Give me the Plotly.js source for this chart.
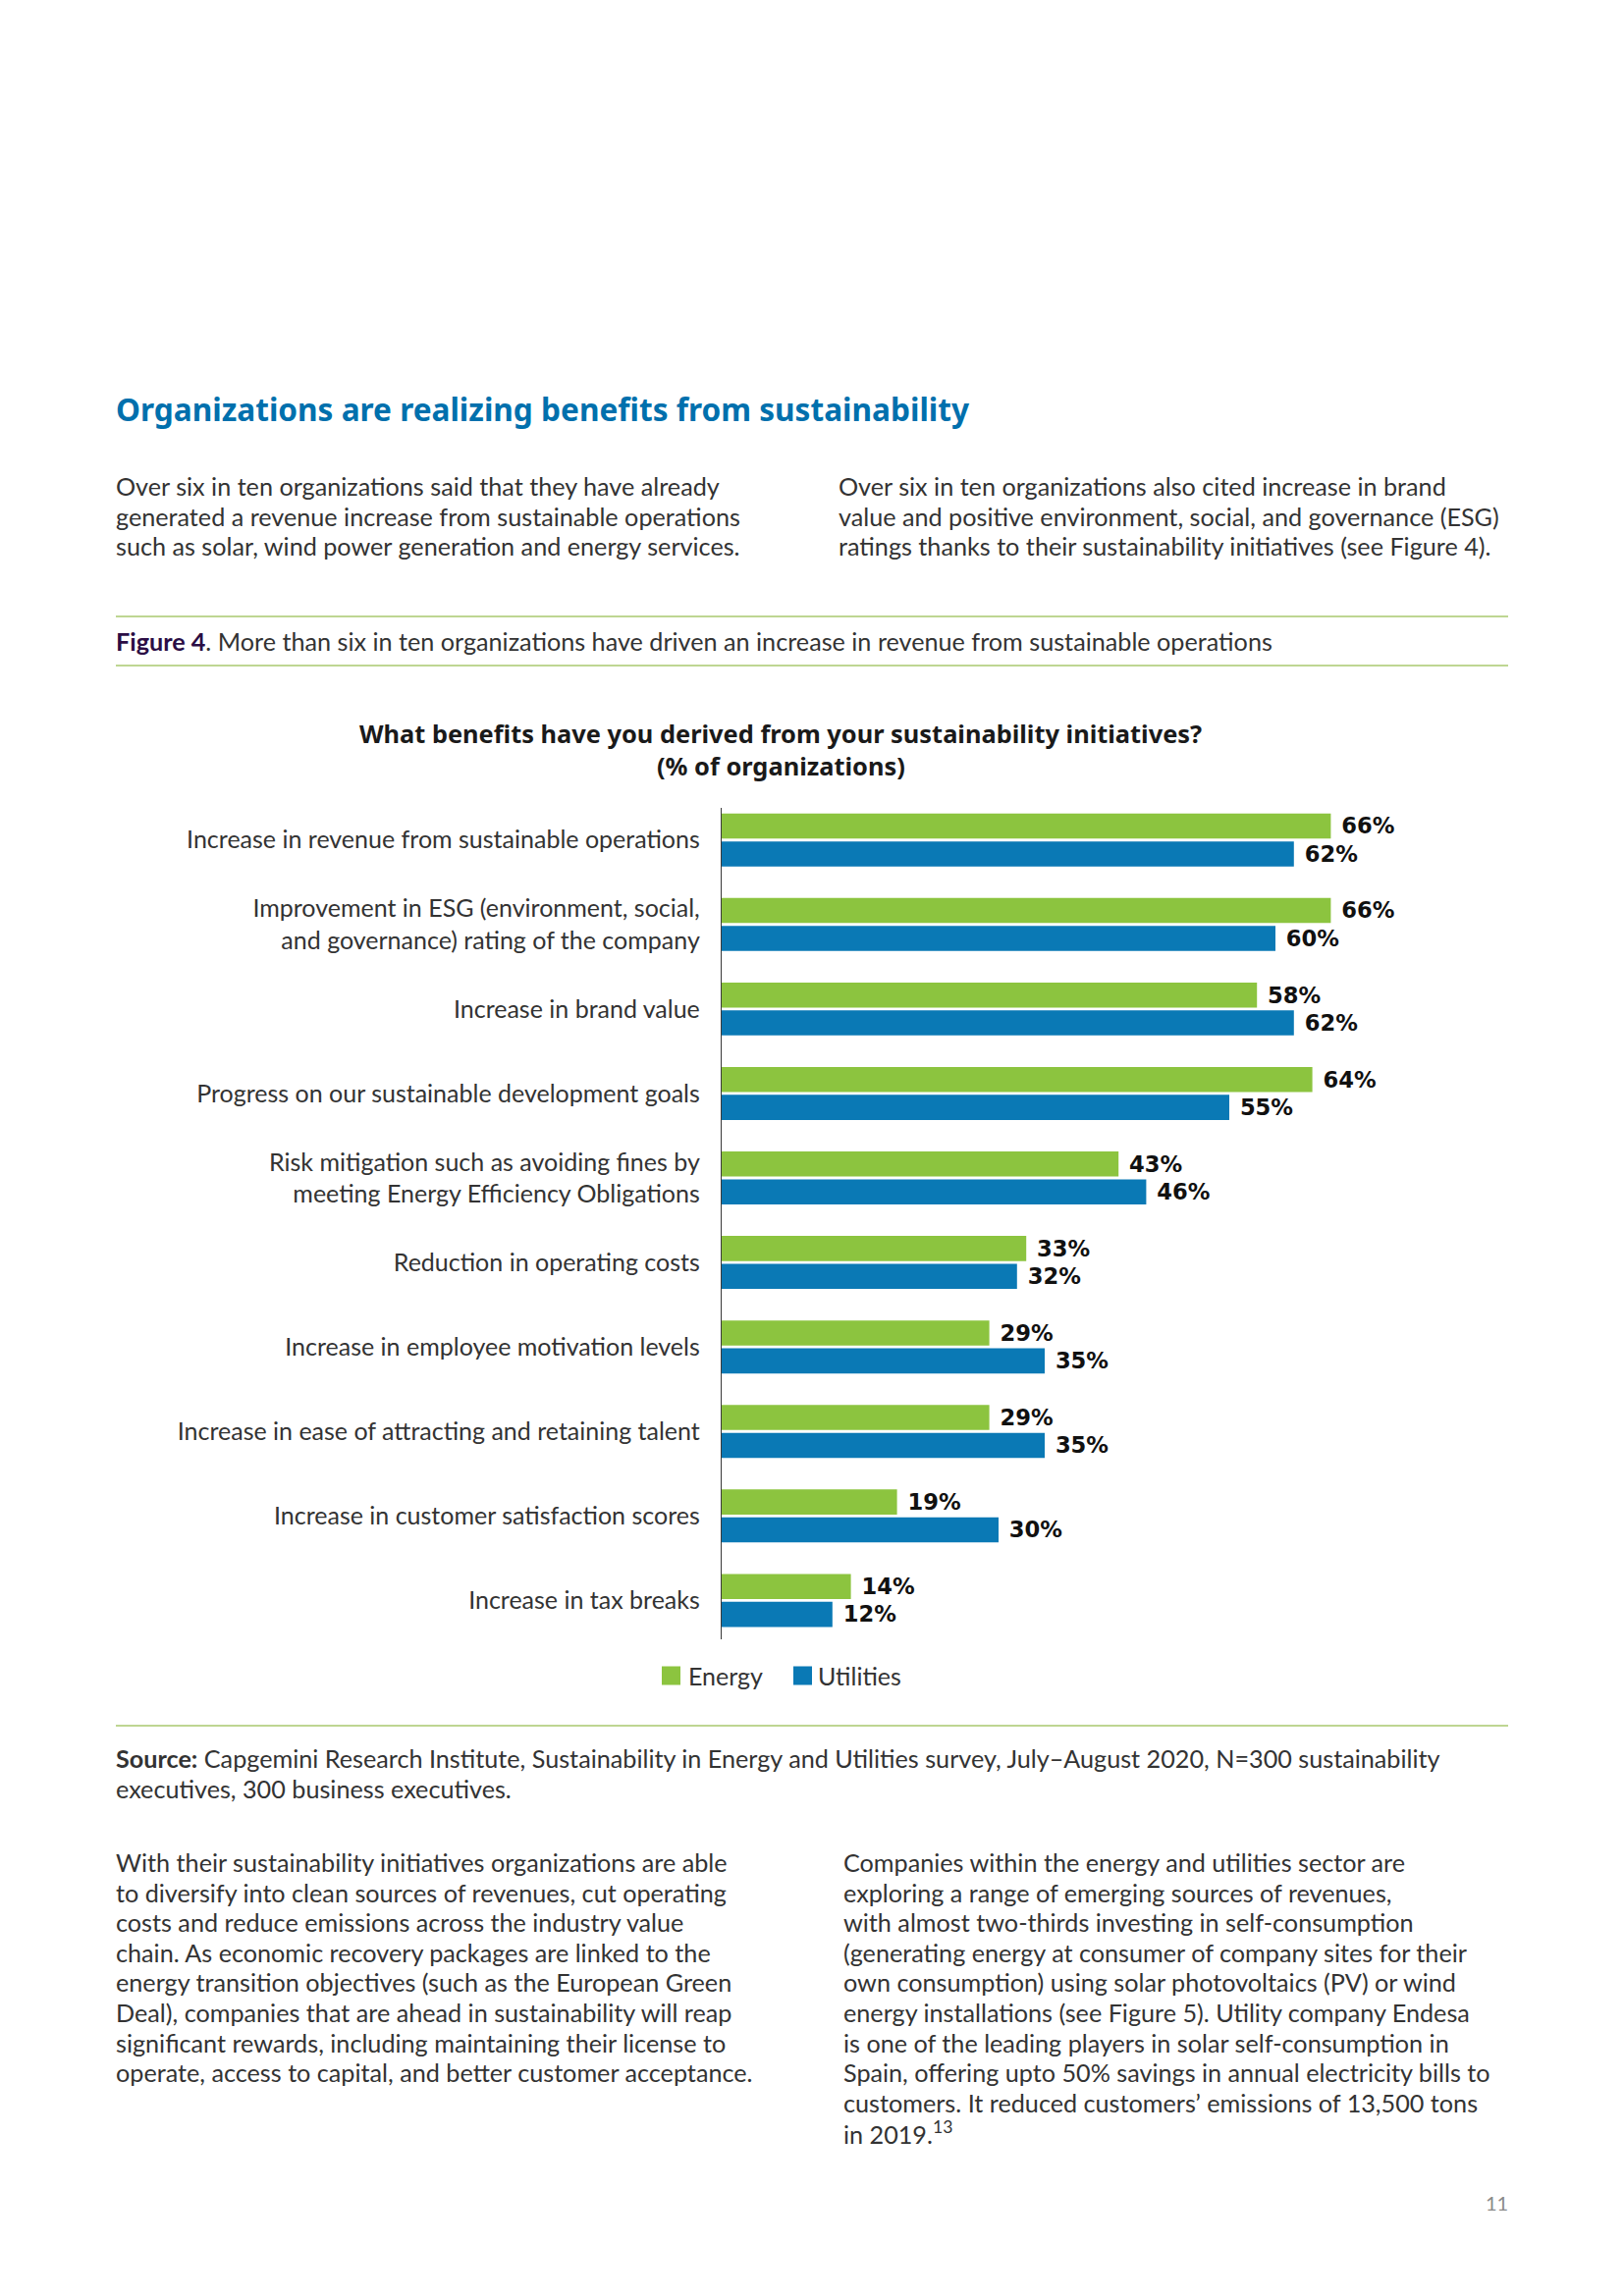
<!DOCTYPE html>
<html>
<head>
<meta charset="utf-8">
<script src="https://cdn.plot.ly/plotly-3.0.1.min.js"></script>
<style>
  html, body { margin: 0; padding: 0; background: #ffffff; }
  #chart { width: 1654px; height: 2339px; }
</style>
</head>
<body>
<div id="chart"></div>
<script>
// ---------- DATA ----------
const categories = [
  "Increase in revenue from sustainable operations",
  "Improvement in ESG (environment, social,<br>and governance) rating of the company",
  "Increase in brand value",
  "Progress on our sustainable development goals",
  "Risk mitigation such as avoiding fines by<br>meeting Energy Efficiency Obligations",
  "Reduction in operating costs",
  "Increase in employee motivation levels",
  "Increase in ease of attracting and retaining talent",
  "Increase in customer satisfaction scores",
  "Increase in tax breaks"
];
const energy    = [66, 66, 58, 64, 43, 33, 29, 29, 19, 14];
const utilities = [62, 60, 62, 55, 46, 32, 35, 35, 30, 12];
const seriesNames = ["Energy", "Utilities"];

// ---------- STYLE ----------
const W = 1654, H = 2339;
const GREEN = "#8cc43f", BLUE = "#0a79b5";
const TXT = "#333333";
const FONT = "Lato, 'Noto Sans', sans-serif";
const BOLDFONT = "'Noto Sans', Lato, sans-serif";
const VALFONT = "'DejaVu Sans', 'Noto Sans', sans-serif";
const px = x => x / W;
const py = y => 1 - y / H;

function barTrace(name, values, color) {
  return {
    type: "bar", orientation: "h", name: name,
    y: categories, x: values,
    marker: { color: color },
    texttemplate: "\u00a0%{x}%", textposition: "outside", cliponaxis: false,
    textfont: { family: VALFONT, size: 23, color: "#111111", weight: 700 },
    hoverinfo: "skip", showlegend: false
  };
}
const traces = [
  barTrace(seriesNames[0], energy, GREEN),
  barTrace(seriesNames[1], utilities, BLUE)
];

const axisLeft = 735, axisRight = 1500, pxPerPct = 9.4;

function ann(text, x, y, opts) {
  return Object.assign({
    text: text, x: px(x), y: py(y), xref: "paper", yref: "paper",
    showarrow: false, xanchor: "left", yanchor: "middle", align: "left",
    font: { family: FONT, size: 25.2, color: TXT }
  }, opts || {});
}
function lines(arr, x, y0, step, opts) {
  return arr.map((t, i) => ann(t, x, y0 + i * step, opts));
}

const leftPara1 = [
  "Over six in ten organizations said that they have already",
  "generated a revenue increase from sustainable operations",
  "such as solar, wind power generation and energy services."
];
const rightPara1 = [
  "Over six in ten organizations also cited increase in brand",
  "value and positive environment, social, and governance (ESG)",
  "ratings thanks to their sustainability initiatives (see Figure 4)."
];
const sourceLines = [
  "<b>Source:</b> Capgemini Research Institute, Sustainability in Energy and Utilities survey, July–August 2020, N=300 sustainability",
  "executives, 300 business executives."
];
const leftPara2 = [
  "With their sustainability initiatives organizations are able",
  "to diversify into clean sources of revenues, cut operating",
  "costs and reduce emissions across the industry value",
  "chain. As economic recovery packages are linked to the",
  "energy transition objectives (such as the European Green",
  "Deal), companies that are ahead in sustainability will reap",
  "significant rewards, including maintaining their license to",
  "operate, access to capital, and better customer acceptance."
];
const rightPara2 = [
  "Companies within the energy and utilities sector are",
  "exploring a range of emerging sources of revenues,",
  "with almost two-thirds investing in self-consumption",
  "(generating energy at consumer of company sites for their",
  "own consumption) using solar photovoltaics (PV) or wind",
  "energy installations (see Figure 5). Utility company Endesa",
  "is one of the leading players in solar self-consumption in",
  "Spain, offering upto 50% savings in annual electricity bills to",
  "customers. It reduced customers’ emissions of 13,500 tons",
  "in 2019.<sup>13</sup>"
];

const STEP = 30.6;
const annotations = [].concat(
  [ann("<b>Organizations are realizing benefits from sustainability</b>", 116, 416,
      { font: { family: BOLDFONT, size: 31.6, color: "#0070ad" } })],
  lines(leftPara1, 116, 495, STEP),
  lines(rightPara1, 852, 495, STEP),
  [ann("<b><span style='color:#2b0d45'>Figure 4</span></b>. More than six in ten organizations have driven an increase in revenue from sustainable operations",
      116, 653)],
  [ann("<b>What benefits have you derived from your sustainability initiatives?</b>", 795, 747,
      { xanchor: "center", align: "center", font: { family: BOLDFONT, size: 25.4, color: "#1a1a1a" } }),
   ann("<b>(% of organizations)</b>", 795, 780,
      { xanchor: "center", align: "center", font: { family: BOLDFONT, size: 25.4, color: "#1a1a1a" } })],
  [ann(seriesNames[0], 699, 1707, { font: { family: FONT, size: 25, color: TXT } }),
   ann(seriesNames[1], 831, 1707, { font: { family: FONT, size: 25, color: TXT } })],
  lines(sourceLines, 116, 1791, 31),
  lines(leftPara2, 116, 1897, STEP),
  lines(rightPara2, 857, 1897, STEP),
  [ann("11", 1524, 2244, { xanchor: "center", font: { family: FONT, size: 20, color: "#8a8a8a" } })]
);

const RULE = "#a9c96e";
const shapes = [
  { type: "line", xref: "paper", yref: "paper", x0: px(118), x1: px(1536), y0: py(628), y1: py(628),
    line: { color: RULE, width: 1.5 } },
  { type: "line", xref: "paper", yref: "paper", x0: px(118), x1: px(1536), y0: py(678), y1: py(678),
    line: { color: RULE, width: 1.5 } },
  { type: "line", xref: "paper", yref: "paper", x0: px(118), x1: px(1536), y0: py(1758), y1: py(1758),
    line: { color: RULE, width: 1.5 } },
  { type: "rect", xref: "paper", yref: "paper", x0: px(674), x1: px(693), y0: py(1697.5), y1: py(1716.5),
    fillcolor: GREEN, line: { width: 0 } },
  { type: "rect", xref: "paper", yref: "paper", x0: px(808), x1: px(827), y0: py(1697.5), y1: py(1716.5),
    fillcolor: BLUE, line: { width: 0 } }
];

const layout = {
  width: W, height: H,
  margin: { l: 0, r: 0, t: 0, b: 0 },
  paper_bgcolor: "#ffffff", plot_bgcolor: "rgba(0,0,0,0)",
  barmode: "group", bargap: 0.34, bargroupgap: 0.1,
  showlegend: false,
  font: { family: FONT, color: TXT },
  xaxis: {
    domain: [px(axisLeft), px(axisRight)],
    range: [0, (axisRight - axisLeft) / pxPerPct],
    showgrid: false, zeroline: false, showticklabels: false, showline: false, ticks: "",
    fixedrange: true
  },
  yaxis: {
    type: "category",
    domain: [py(1670), py(823)],
    range: [9.46, -0.38],
    showgrid: false, zeroline: false,
    showline: true, linecolor: "#3a3a3a", linewidth: 1.2,
    ticks: "", ticklabelstandoff: 16,
    tickfont: { family: FONT, size: 25, color: TXT },
    fixedrange: true
  },
  annotations: annotations,
  shapes: shapes
};

Plotly.newPlot("chart", traces, layout, { staticPlot: true, displayModeBar: false });
</script>
</body>
</html>
